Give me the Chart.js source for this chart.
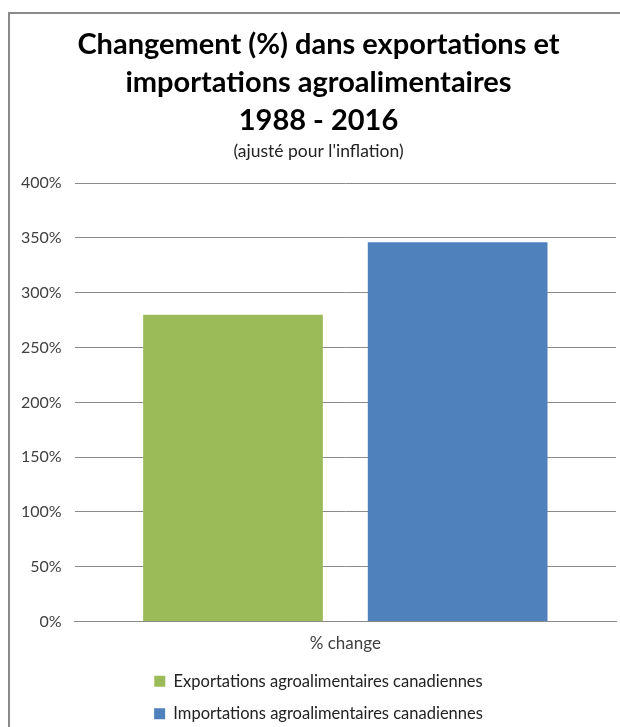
<!DOCTYPE html>
<html>
<head>
<meta charset="utf-8">
<script src="https://cdn.jsdelivr.net/npm/chart.js@4"></script>
<style>
  body { margin: 0; background: #fff; overflow: hidden; }
  #frame {
    position: absolute; left: 8px; top: 12px; width: 700px; height: 800px;
    border-left: 2px solid #8a8a8a; border-top: 2px solid #8a8a8a;
  }
  #myChart { position: absolute; left: 8px; top: 14px; }
</style>
</head>
<body>
<div id="frame"></div>
<canvas id="myChart" width="622" height="713"></canvas>
<script>
var categories = ['% change'];
var seriesNames = ['Exportations agroalimentaires canadiennes', 'Importations agroalimentaires canadiennes'];
var exportValues = [280];
var importValues = [346];
var colors = ['#9BBB59', '#4F81BD'];

var fontName = 'Lato, "Open Sans", sans-serif';

function makeGraph(cats, exp, imp) {
var ctx = document.getElementById('myChart').getContext('2d');
var myChart = new Chart(ctx, {
    type: 'bar',

    // two series, one category
    data: {
        labels: cats,
        datasets: [{
            label: seriesNames[0],
            data: exp,
            backgroundColor: colors[0]
        }, {
            label: seriesNames[1],
            data: imp,
            backgroundColor: colors[1]
        }]
    },

    options: {
        responsive: false,
        animation: false,
        layout: { padding: { top: 2, right: 14, left: 13, bottom: -5 } },
        datasets: { bar: { categoryPercentage: 0.83, barPercentage: 0.8 } },
        scales: {
            x: {
                grid: { display: false, drawTicks: false },
                border: { display: true, color: '#8a8a8a' },
                ticks: { color: '#404040', font: { family: fontName, size: 17 }, padding: 12 },
                afterFit: function (scale) { scale.height -= 9; }
            },
            y: {
                min: 0,
                max: 400,
                grid: { color: '#8a8a8a', drawTicks: false },
                border: { display: false },
                ticks: {
                    stepSize: 50,
                    padding: 13,
                    color: '#404040',
                    font: { family: fontName, size: 16 },
                    callback: function (v) { return v + '%'; }
                },
                // drop the unused left half of the tick padding
                afterFit: function (scale) { scale.width -= 13; }
            }
        },
        plugins: {
            title: {
                display: true,
                text: ['Changement (%) dans exportations et', 'importations agroalimentaires', '1988 - 2016'],
                color: '#000',
                font: { family: fontName, size: 29, weight: 'bold', lineHeight: 1.3 },
                padding: { top: 10, bottom: 2 }
            },
            subtitle: {
                display: true,
                text: "(ajusté pour l'inflation)",
                color: '#222',
                font: { family: fontName, size: 17.5, lineHeight: 1.2 },
                padding: { top: 0, bottom: 21 }
            },
            legend: {
                position: 'bottom',
                labels: {
                    boxWidth: 11,
                    boxHeight: 11,
                    padding: 16,
                    color: '#222',
                    font: { family: fontName, size: 16.5 }
                }
            },
            tooltip: { enabled: false }
        }
    }
});
}

makeGraph(categories, exportValues, importValues);
</script>
</body>
</html>
